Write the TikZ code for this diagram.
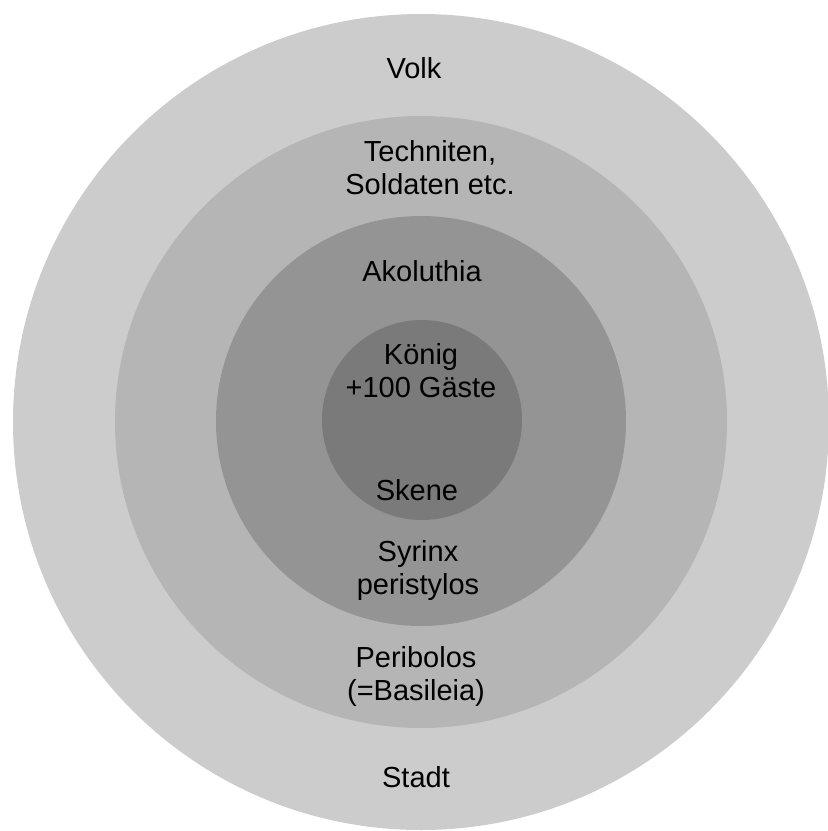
\documentclass[tikz,border=0pt]{standalone}
\usepackage{fontspec}
\setmainfont{Liberation Sans}
\usepackage{tikz}
\usetikzlibrary{positioning}
\definecolor{volkgray}{gray}{0.80}
\definecolor{basgray}{gray}{0.71}
\definecolor{perigray}{gray}{0.58}
\definecolor{skenegray}{gray}{0.48}

\begin{document}
\begin{tikzpicture}[
  x=1pt,y=-1pt,
  every node/.style={font=\fontsize{29}{32.5}\selectfont},
  ring/.style={line width=0pt},
  lab/.style={anchor=base,inner sep=0pt,align=center,text=black}
]
\useasboundingbox (0,0) rectangle (828,831);

% rings from outside in
\fill[ring,volkgray]  (421,422) circle (408);
\fill[ring,basgray]   (421,422) circle (306);
\fill[ring,perigray]  (421,421) circle (205);
\fill[ring,skenegray] (422,420) circle (100);

% two-line labels sit on the base of their last line
\node[lab] (volk) at (414,78) {Volk};
\node[lab] (techn) at (430,194) {Techniten,\\Soldaten etc.};
\node[lab] (akol) at (422,281) {Akoluthia};
\node[lab] (koenig) at (421,397) {König\\+100 Gäste};
\node[lab] (skene) at (417,500) {Skene};
\node[lab] (syrinx) at (418,594) {Syrinx\\peristylos};
\node[lab] (peri) at (416,700) {Peribolos\\(=Basileia)};
\node[lab] (stadt) at (416,787) {Stadt};

\end{tikzpicture}
\end{document}
